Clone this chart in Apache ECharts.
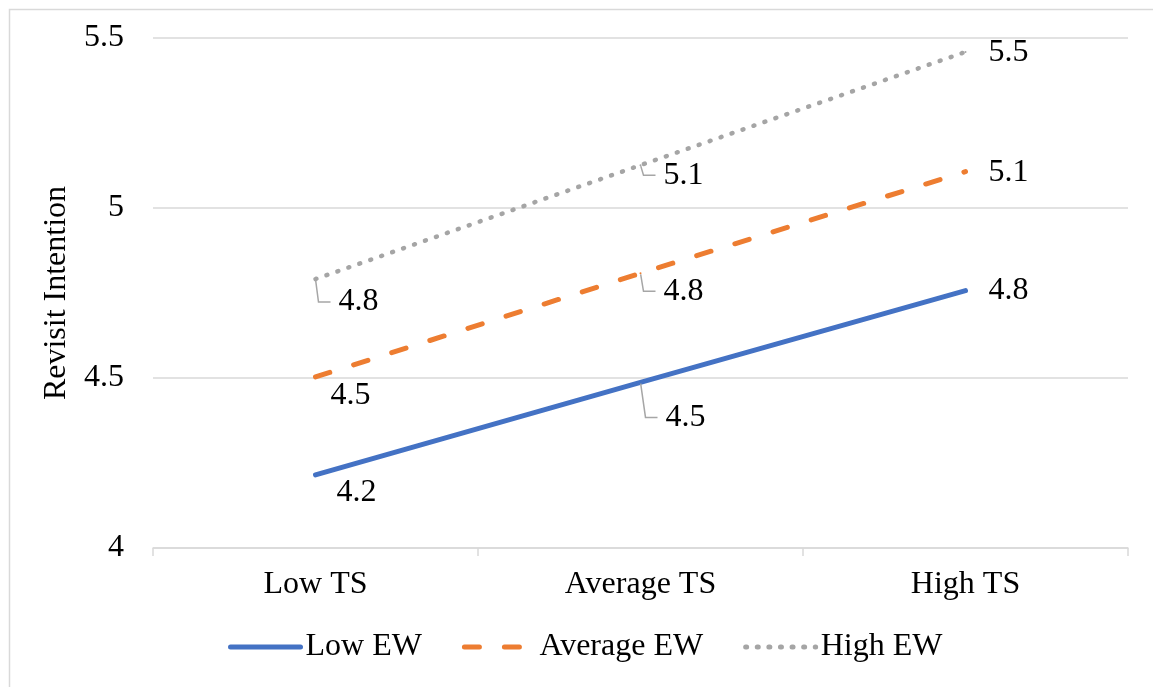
<!DOCTYPE html>
<html>
<head>
<meta charset="utf-8">
<script src="https://cdn.jsdelivr.net/npm/echarts@6/dist/echarts.min.js"></script>
<style>
  html, body { margin: 0; padding: 0; background: #fff; }
  #container { width: 1153px; height: 687px; }
</style>
</head>
<body>
<div id="container"></div>
<script>
var categories = ["Low TS", "Average TS", "High TS"];
var seriesNames = ["Low EW", "Average EW", "High EW"];
var lowEW = [4.215, 4.487, 4.757];
var averageEW = [4.503, 4.808, 5.107];
var highEW = [4.791, 5.126, 5.459];
var yTicks = { min: 4, max: 5.5, interval: 0.5 };

// label offsets [dx, dy] per series / category, and which ones get a leader line
var labelOffsets = [
  [[12, 18], [16, 35], [14, 0]],
  [[6, 19], [14, 18], [14, 1]],
  [[14, 23], [14, 10], [14, 1]]
];
var leaders = [
  [false, true, false],
  [false, true, false],
  [true, true, false]
];

var font = "'Liberation Serif', 'Times New Roman', serif";
var colors = ["#4472C4", "#ED7D31", "#A5A5A5"];
var lineTypes = ["solid", [15, 25], [1, 10.6]];
var lineWidths = [5, 5, 4.5];

var dom = document.getElementById("container");
var myChart = echarts.init(dom, null, { renderer: "canvas" });

function buildSeries(name, values, idx) {
  return {
    name: name,
    type: "line",
    data: values.map(function (v, i) {
      return {
        value: v,
        labelLine: { show: leaders[idx][i] }
      };
    }),
    symbol: "circle",
    symbolSize: 2,
    showSymbol: true,
    color: colors[idx],
    itemStyle: { color: colors[idx] },
    lineStyle: { color: colors[idx], width: lineWidths[idx], type: lineTypes[idx], cap: "round" },
    label: {
      show: true,
      position: "right",
      distance: 0,
      padding: [0, 0, 0, 8],
      backgroundColor: "rgba(255,255,255,0)",
      fontFamily: font,
      fontSize: 32,
      color: "#000",
      formatter: function (p) { return p.value.toFixed(1); }
    },
    labelLine: {
      show: false,
      length2: 12,
      lineStyle: { color: "#A6A6A6", width: 1.5 }
    },
    labelLayout: function (p) {
      var o = labelOffsets[idx][p.dataIndex];
      return { dx: o[0], dy: o[1] };
    },
    z: 3 + idx
  };
}

var option = {
  animation: false,
  backgroundColor: "#fff",
  graphic: [{
    type: "rect",
    left: 7,
    top: 7,
    shape: { width: 1152, height: 679 },
    style: { fill: "none", stroke: "#D9D9D9", lineWidth: 1.5 },
    silent: true
  }],
  grid: { left: 153, right: 25, top: 38, bottom: 139 },
  legend: {
    data: seriesNames,
    left: 223,
    top: 626,
    itemWidth: 70,
    itemHeight: 14,
    itemGap: 40,
    itemStyle: { opacity: 0 },
    lineStyle: { width: 5 },
    textStyle: { fontFamily: font, fontSize: 32, color: "#000" }
  },
  xAxis: {
    type: "category",
    data: categories,
    boundaryGap: true,
    axisLine: { lineStyle: { color: "#D9D9D9", width: 1.5 } },
    axisTick: { show: true, length: 8, lineStyle: { color: "#D9D9D9", width: 1.5 } },
    axisLabel: { fontFamily: font, fontSize: 32, color: "#000", margin: 21 }
  },
  yAxis: {
    type: "value",
    min: yTicks.min,
    max: yTicks.max,
    interval: yTicks.interval,
    name: "Revisit Intention",
    nameLocation: "middle",
    nameGap: 80,
    nameTextStyle: { fontFamily: font, fontSize: 32, color: "#000" },
    axisLine: { show: false },
    axisTick: { show: false },
    splitLine: { lineStyle: { color: "#D9D9D9", width: 1.5 } },
    axisLabel: {
      fontFamily: font, fontSize: 32, color: "#000", margin: 29,
      formatter: function (v) { return String(Math.round(v * 10) / 10); }
    }
  },
  series: [
    buildSeries(seriesNames[0], lowEW, 0),
    buildSeries(seriesNames[1], averageEW, 1),
    buildSeries(seriesNames[2], highEW, 2)
  ]
};

if (option && typeof option === "object") {
  myChart.setOption(option);
}

window.addEventListener("resize", myChart.resize);
</script>
</body>
</html>
